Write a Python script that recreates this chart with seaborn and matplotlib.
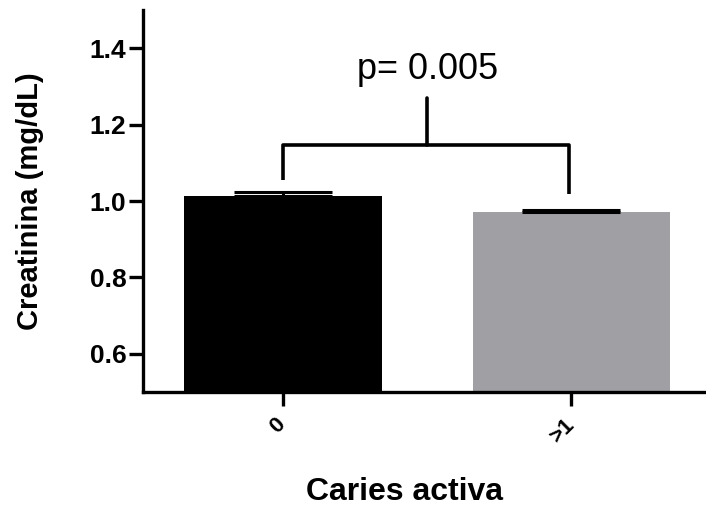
import numpy as np
import pandas as pd
import matplotlib
matplotlib.use("Agg")
import matplotlib.pyplot as plt
import matplotlib.transforms as mtransforms
import seaborn as sns

# Values (GraphPad-style bar chart, mean + SEM)
groups = ["0", ">1"]
means = [1.014, 0.972]
sems = [0.010, 0.004]
bar_colors = ["#000000", "#a09fa4"]
p_text = "p= 0.005"
y_ticks = [0.6, 0.8, 1.0, 1.2, 1.4]

sns.set_theme(style="ticks", rc={
    "text.color": "black", "axes.labelcolor": "black",
    "xtick.color": "black", "ytick.color": "black", "axes.edgecolor": "black",
})
plt.rcParams["font.family"] = ["Liberation Sans", "DejaVu Sans"]

df = pd.DataFrame({"grupo": groups, "creatinina": means})

fig = plt.figure(figsize=(7.06, 5.08), dpi=100)
ax = fig.add_axes([0.2026, 0.2283, 0.797, 0.7517])

sns.barplot(data=df, x="grupo", y="creatinina", hue="grupo", palette=bar_colors,
            width=0.685, errorbar=None, legend=False, saturation=1,
            linewidth=0, ax=ax)

# one-sided SEM caps, like Prism draws them
ax.errorbar([0, 1], means, yerr=[np.zeros(2), sems], fmt="none",
            ecolor="black", elinewidth=2.2, capsize=35, capthick=2.2, zorder=3)

# significance bracket
bracket_y = 1.146
left_low = means[0] + sems[0] + 0.031
right_low = means[1] + sems[1] + 0.042
ax.plot([0, 0, 0.99, 0.99], [left_low, bracket_y, bracket_y, right_low],
        color="black", lw=2.6, solid_capstyle="butt", zorder=4)
ax.plot([0.5, 0.5], [bracket_y, 1.269], color="black", lw=2.6, zorder=4)
ax.text(0.5, 1.345, p_text, ha="center", va="center", fontsize=26)

ax.set_ylim(0.5, 1.5)
ax.set_xlim(-0.484, 1.465)
ax.set_yticks(y_ticks)
ax.set_yticklabels([f"{t:.1f}" for t in y_ticks], fontsize=19, fontweight="bold")
ax.set_xticks([0, 1])
ax.set_xticklabels(groups, fontsize=16, fontweight="bold", rotation=45, ha="right")

ax.set_xlabel("Caries activa", fontsize=23, fontweight="bold")
ax.xaxis.set_label_coords(0.465, -0.222)
ax.set_ylabel("Creatinina (mg/dL)", fontsize=21, fontweight="bold", labelpad=33)

sns.despine(ax=ax)
for side in ["left", "bottom"]:
    ax.spines[side].set_linewidth(2.4)
ax.tick_params(axis="both", width=2.4, length=10, color="black", pad=2)
ax.tick_params(axis="x", pad=6)

# nudge the rotated x labels a bit right (after tick_params, which resets transforms)
shift = mtransforms.ScaledTranslation(7 / 100, 0, fig.dpi_scale_trans)
for lab in ax.get_xticklabels():
    lab.set_transform(lab.get_transform() + shift)

fig.savefig("out.png", dpi=100)
